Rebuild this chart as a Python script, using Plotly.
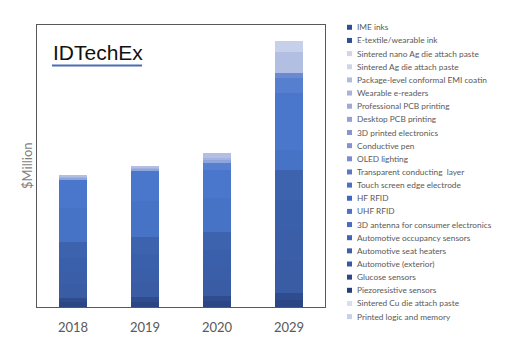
import plotly.graph_objects as go

years = ["2018", "2019", "2020", "2029"]

# Stack order, bottom -> top  ($Million)
stack_names = [
    "Piezoresistive sensors", "Glucose sensors", "Automotive (exterior)",
    "Automotive seat heaters", "Automotive occupancy sensors",
    "3D antenna for consumer electronics", "UHF RFID", "HF RFID",
    "Touch screen edge electrode", "Transparent conducting  layer",
    "OLED lighting", "Conductive pen", "3D printed electronics",
    "Desktop PCB printing", "Professional PCB printing", "Wearable e-readers",
    "Package-level conformal EMI coatin", "Sintered Ag die attach paste",
    "Sintered nano Ag die attach paste", "E-textile/wearable ink", "IME inks",
    "Sintered Cu die attach paste", "Printed logic and memory",
]
stack_values = [
    [250, 250, 300, 350],
    [200, 250, 250, 350],
    [700, 750, 800, 1650],
    [600, 650, 700, 1500],
    [700, 750, 800, 1500],
    [800, 850, 900, 1500],
    [1700, 1800, 1700, 1000],
    [1400, 1500, 1400, 2850],
    [0, 0, 350, 750],
    [0, 0, 0, 250],
    [100, 100, 150, 0],
    [0, 0, 0, 0],
    [50, 50, 100, 0],
    [0, 0, 0, 0],
    [0, 0, 0, 0],
    [0, 0, 0, 0],
    [100, 100, 250, 1050],
    [0, 0, 0, 0],
    [0, 0, 0, 550],
    [0, 0, 0, 0],
    [0, 0, 0, 0],
    [0, 0, 0, 0],
    [0, 0, 0, 0],
]
stack_colors = [
    "#2a4684", "#2e4c8e", "#3a5ca4", "#3a5ea8", "#3b60ab", "#3d62ae",
    "#4673c5", "#4a77cb", "#5680cf", "#6a8bd0", "#8ea5dc", "#8e9ed6",
    "#a3b2e0", "#9aa6d6", "#a4aed9", "#a9b3da", "#b2bfe3", "#c8cfe8",
    "#c7d0eb", "#2f4f95", "#2f4f95", "#d6dbee", "#c3cbe6",
]

# Legend order, top -> bottom
legend_names = [
    "IME inks", "E-textile/wearable ink", "Sintered nano Ag die attach paste",
    "Sintered Ag die attach paste", "Package-level conformal EMI coatin",
    "Wearable e-readers", "Professional PCB printing", "Desktop PCB printing",
    "3D printed electronics", "Conductive pen", "OLED lighting",
    "Transparent conducting  layer", "Touch screen edge electrode", "HF RFID",
    "UHF RFID", "3D antenna for consumer electronics",
    "Automotive occupancy sensors", "Automotive seat heaters",
    "Automotive (exterior)", "Glucose sensors", "Piezoresistive sensors",
    "Sintered Cu die attach paste", "Printed logic and memory",
]
legend_colors = [
    "#2f4f95", "#2f4f95", "#d0d5e9", "#cfd4e8", "#b4bcdc", "#aab3d8",
    "#9fa9d6", "#96a1d4", "#8994cf", "#8592cf", "#7b8dd0", "#5a78c4",
    "#4d70c6", "#3d68c8", "#4a72c8", "#4a6cbe", "#4264b2", "#3e5ea8",
    "#3a59a0", "#2c4888", "#253f78", "#d8ddef", "#c8d0ea",
]

fig = go.Figure()
for name, vals, col in zip(stack_names, stack_values, stack_colors):
    fig.add_trace(go.Bar(x=years, y=vals, name=name, marker=dict(color=col, line=dict(width=0)),
                         showlegend=False))

L, R, T, B = 37, 325, 25, 307
W, H = 512, 363
pw, ph = R - L, B - T

def px_x(x):
    return (x - L) / pw

def px_y(y):
    return (B - y) / ph

shapes = []
annotations = []
y0, step = 27.3, 13.15
for i, (name, col) in enumerate(zip(legend_names, legend_colors)):
    yc = y0 + i * step
    shapes.append(dict(type="rect", xref="paper", yref="paper",
                       x0=px_x(347), x1=px_x(352), y0=px_y(yc + 2.5), y1=px_y(yc - 2.5),
                       fillcolor=col, line=dict(width=0)))
    annotations.append(dict(text=name, xref="paper", yref="paper", x=px_x(354.5), y=px_y(yc),
                            xanchor="left", yanchor="middle", showarrow=False,
                            font=dict(family="Lato", size=8.3, color="#595959")))

# Logo
annotations.append(dict(text="IDTechEx", xref="paper", yref="paper", x=px_x(51), y=px_y(52.5),
                        xanchor="left", yanchor="middle", showarrow=False,
                        font=dict(family="Liberation Sans, Arial", size=21, color="#111111")))
shapes.append(dict(type="line", xref="paper", yref="paper", x0=px_x(52), x1=px_x(142),
                   y0=px_y(65.5), y1=px_y(65.5), line=dict(color="#4a6db3", width=2)))

# Y title
annotations.append(dict(text="$Million", xref="paper", yref="paper", x=px_x(27), y=px_y(166),
                        xanchor="center", yanchor="middle", textangle=-90, showarrow=False,
                        font=dict(family="Lato", size=13, color="#7f7f7f")))

fig.update_layout(
    width=W, height=H,
    margin=dict(l=L, r=W - R, t=T, b=H - B, pad=0),
    barmode="stack", bargap=0.61,
    plot_bgcolor="white", paper_bgcolor="white",
    shapes=shapes, annotations=annotations,
    xaxis=dict(showline=True, mirror=True, linecolor="#595959", linewidth=1,
               showgrid=False, ticks="", tickfont=dict(family="Lato", size=13, color="#595959"),
               ticklabelstandoff=8),
    yaxis=dict(range=[0, 14100], showline=True, mirror=True, linecolor="#595959", linewidth=1,
               showgrid=False, showticklabels=False, ticks="", zeroline=False),
)

fig.write_html("out.html", config={"displayModeBar": False},
               post_script="document.body.style.margin='0px';")
